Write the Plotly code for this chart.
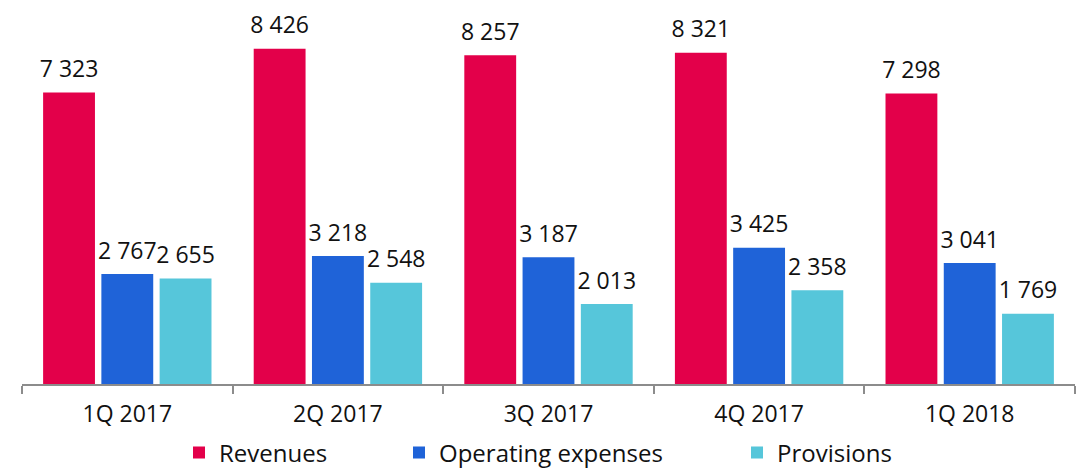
import plotly.graph_objects as go

categories = ["1Q 2017", "2Q 2017", "3Q 2017", "4Q 2017", "1Q 2018"]
revenues = [7323, 8426, 8257, 8321, 7298]
operating_expenses = [2767, 3218, 3187, 3425, 3041]
provisions = [2655, 2548, 2013, 2358, 1769]
series_names = ["Revenues", "Operating expenses", "Provisions"]


def fmt(v):
    return f"{v:,}".replace(",", " ")


FONT = "Open Sans"
# small base size: the trailing blank line lifts labels a little off the bars
LABEL = dict(family=FONT, size=8, color="#111111")

# The page body has an 8px default margin, so the figure is sized to fit inside.
W, H = 1081, 461

fig = go.Figure()
series = [
    (series_names[0], revenues, "#e3004a", "legend"),
    (series_names[1], operating_expenses, "#1f63d8", "legend2"),
    (series_names[2], provisions, "#56c6da", "legend3"),
]
for name, vals, color, leg in series:
    fig.add_trace(go.Bar(
        x=categories, y=vals, name=name,
        marker=dict(color=color, line=dict(width=0)),
        text=["<span style='font-size:23px'>" + fmt(v) + "</span><br> " for v in vals],
        textposition="outside", textfont=LABEL, cliponaxis=False,
        constraintext="none",
        legend=leg,
    ))

legend_common = dict(orientation="h", xref="container", yref="container",
                     yanchor="middle", y=(H - 445) / H, xanchor="left",
                     font=dict(family=FONT, size=24, color="#111111"),
                     bgcolor="rgba(0,0,0,0)", itemclick=False)

fig.update_layout(
    width=W, height=H,
    margin=dict(l=14, r=14, t=2, b=81),
    paper_bgcolor="white", plot_bgcolor="white",
    barmode="group", bargap=0.17, bargroupgap=0.11,
    showlegend=True,
    legend=dict(x=171 / W, **legend_common),
    legend2=dict(x=391 / W, **legend_common),
    legend3=dict(x=729 / W, **legend_common),
    uniformtext=dict(mode=False),
    xaxis=dict(
        type="category", showline=True, linecolor="#8c8c8c", linewidth=1.5,
        ticks="outside", tickson="boundaries", ticklen=8, tickcolor="#8c8c8c",
        tickwidth=1.5, ticklabelstandoff=8,
        tickfont=dict(family=FONT, size=23, color="#111111"),
        showgrid=False, zeroline=False,
    ),
    yaxis=dict(range=[0, 9396], visible=False, showgrid=False, zeroline=False),
)

fig.write_html("out.html")
